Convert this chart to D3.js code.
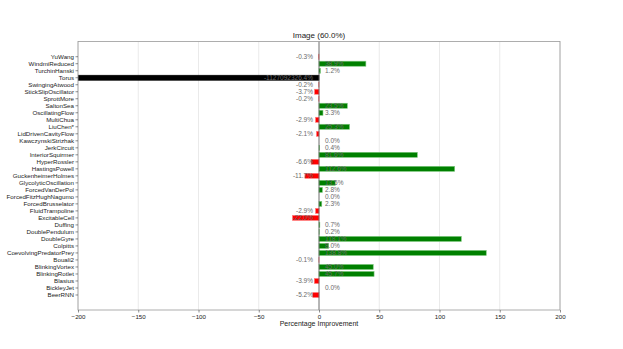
<!DOCTYPE html>
<html>
<head>
<meta charset="utf-8">
<script src="https://cdn.jsdelivr.net/npm/d3@7"></script>
<style>
  body { margin: 0; background: #fff; }
  text { font-family: "Liberation Sans", "DejaVu Sans", sans-serif; }
</style>
</head>
<body>
<svg width="623" height="349"></svg>
<script>
// systems from top to bottom
var systems = ["YuWang","WindmiReduced","TurchinHanski","Torus","SwingingAtwood","StickSlipOscillator",
  "SprottMore","SaltonSea","OscillatingFlow","MultiChua","LiuChen*","LidDrivenCavityFlow",
  "KawczynskiStrizhak","JerkCircuit","InteriorSquirmer","HyperRossler","HastingsPowell",
  "GuckenheimerHolmes","GlycolyticOscillation","ForcedVanDerPol","ForcedFitzHughNagumo",
  "ForcedBrusselator","FluidTrampoline","ExcitableCell","Duffing","DoublePendulum","DoubleGyre",
  "Colpitts","CoevolvingPredatorPrey","Bouali2","BlinkingVortex","BlinkingRotlet","Blasius",
  "BickleyJet","BeerRNN"];
var improvement = [-0.3, 38.9, 1.2, -1127092326.4, -0.2, -3.7, -0.2, 23.5, 3.3, -2.9, 25.3, -2.1,
  0.0, 0.4, 81.6, -6.6, 112.6, -11.7, 13.5, 2.8, 0.0, 2.3, -2.9, -22.0, 0.7, 0.2, 118.1,
  8.0, 138.8, -0.1, 45.0, 45.7, -3.9, 0.0, -5.2];
var xTicks = [-200, -150, -100, -50, 0, 50, 100, 150, 200];
var outlier = "Torus";

var data = systems.map(function(d, i) { return {name: d, value: improvement[i]}; });

var svg = d3.select("svg");
var pLeft = 78, pRight = 560, pTop = 41.5, pBottom = 310;

var x = d3.scaleLinear().domain([-200, 200]).range([pLeft, pRight]);
var y = d3.scaleBand().domain(systems).range([53.2, 298.5]).paddingInner(0.28).paddingOuter(0.14);

// grid
svg.append("g").selectAll("line").data(xTicks).enter().append("line")
  .attr("x1", function(d) { return x(d); }).attr("x2", function(d) { return x(d); })
  .attr("y1", pTop).attr("y2", pBottom)
  .attr("stroke", "#e4e4e4").attr("stroke-width", 0.8);

// bars, clipped to the plot box
svg.append("clipPath").attr("id", "plotclip").append("rect")
  .attr("x", pLeft).attr("y", pTop).attr("width", pRight - pLeft).attr("height", pBottom - pTop);

function barColor(d) {
  if (d.name === outlier) return "#000";
  return d.value >= 0 ? "green" : "red";
}
function edgeColor(d) {
  if (d.name === outlier) return "#000";
  return d.value >= 0 ? "#7fc97f" : "#ff8080";
}

svg.append("g").attr("clip-path", "url(#plotclip)")
  .selectAll("rect").data(data).enter().append("rect")
  .attr("x", function(d) { return x(Math.min(0, Math.max(d.value, -1000))); })
  .attr("width", function(d) { return Math.abs(x(Math.max(d.value, -1000)) - x(0)); })
  .attr("y", function(d) { return y(d.name); })
  .attr("height", y.bandwidth())
  .attr("fill", barColor)
  .attr("stroke", edgeColor)
  .attr("stroke-width", 0.6);

// zero line
svg.append("line").attr("x1", x(0)).attr("x2", x(0)).attr("y1", pTop).attr("y2", pBottom)
  .attr("stroke", "#555").attr("stroke-width", 0.8);

// value labels
svg.append("g").selectAll("text").data(data).enter().append("text")
  .attr("x", function(d) { return d.value >= 0 ? x(0) + 6 : x(0) - 6; })
  .attr("y", function(d) { return y(d.name) + y.bandwidth() / 2; })
  .attr("dy", "0.35em")
  .attr("text-anchor", function(d) { return d.value >= 0 ? "start" : "end"; })
  .attr("font-size", 6.5)
  .attr("fill", "#6a6a6a")
  .text(function(d) { return d.value.toFixed(1) + "%"; });

// frame
svg.append("rect").attr("x", pLeft).attr("y", pTop).attr("width", pRight - pLeft).attr("height", pBottom - pTop)
  .attr("fill", "none").attr("stroke", "#999").attr("stroke-width", 0.8);

// axes
var fmt = function(d) { return d < 0 ? "\u2212" + Math.abs(d) : d; };
var xAxis = svg.append("g").attr("transform", "translate(0," + pBottom + ")")
  .call(d3.axisBottom(x).tickValues(xTicks).tickFormat(fmt).tickSize(2.5).tickPadding(2));
var yAxis = svg.append("g").attr("transform", "translate(" + pLeft + ",0)")
  .call(d3.axisLeft(y).tickSize(2.5).tickPadding(1.5));
[xAxis, yAxis].forEach(function(a) {
  a.select(".domain").remove();
  a.selectAll("line").attr("stroke", "#444").attr("stroke-width", 0.6);
  a.selectAll("text").attr("font-size", 6.2).attr("fill", "#222").attr("font-family", "Liberation Sans, sans-serif");
});

svg.append("text").attr("x", (pLeft + pRight) / 2).attr("y", 38)
  .attr("text-anchor", "middle").attr("font-size", 8).attr("fill", "#222")
  .text("Image (60.0%)");

svg.append("text").attr("x", (pLeft + pRight) / 2).attr("y", 326)
  .attr("text-anchor", "middle").attr("font-size", 7).attr("fill", "#222")
  .text("Percentage Improvement");
</script>
</body>
</html>
